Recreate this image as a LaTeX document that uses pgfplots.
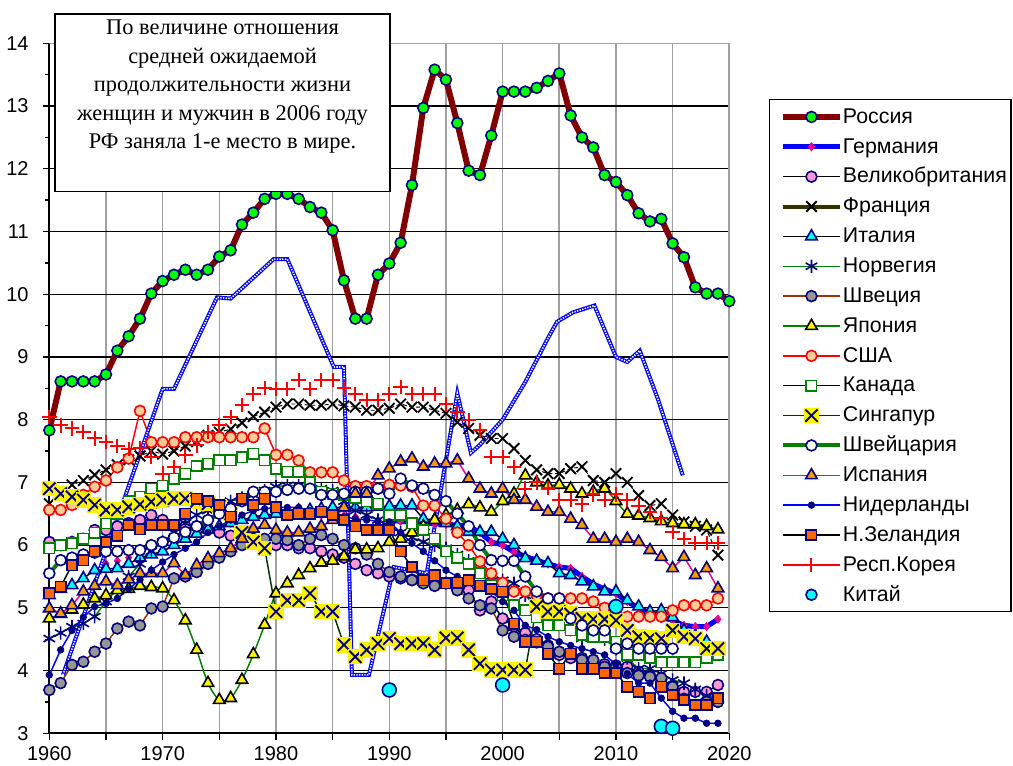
\documentclass[border=0pt]{standalone}
\usepackage{fontspec}
\setmainfont{Liberation Serif}
\setsansfont{Liberation Sans}
\usepackage{pgfplots}
\pgfplotsset{compat=1.18}

\definecolor{rusline}{RGB}{128,0,0}
\definecolor{lgreen}{RGB}{0,255,0}
\definecolor{navy}{RGB}{0,0,128}
\definecolor{pinkf}{RGB}{255,153,204}
\definecolor{olivel}{RGB}{51,51,0}
\definecolor{cyanf}{RGB}{0,255,255}
\definecolor{dgreen}{RGB}{0,128,0}
\definecolor{brownl}{RGB}{153,51,0}
\definecolor{grayf}{RGB}{150,150,150}
\definecolor{peach}{RGB}{255,204,153}
\definecolor{sgline}{RGB}{0,51,0}
\definecolor{orangef}{RGB}{255,153,0}
\definecolor{nzorange}{RGB}{255,102,0}
\definecolor{gridgray}{RGB}{160,160,160}

% yellow square with an X (Singapore)
\pgfdeclareplotmark{sgx}{%
  \pgfpathrectangle{\pgfqpoint{-1.25\pgfplotmarksize}{-1.25\pgfplotmarksize}}{\pgfqpoint{2.5\pgfplotmarksize}{2.5\pgfplotmarksize}}%
  \pgfusepath{fill}%
  \pgfpathmoveto{\pgfqpoint{-\pgfplotmarksize}{-\pgfplotmarksize}}%
  \pgfpathlineto{\pgfqpoint{\pgfplotmarksize}{\pgfplotmarksize}}%
  \pgfpathmoveto{\pgfqpoint{-\pgfplotmarksize}{\pgfplotmarksize}}%
  \pgfpathlineto{\pgfqpoint{\pgfplotmarksize}{-\pgfplotmarksize}}%
  \pgfusepath{stroke}}

\begin{document}
\begin{tikzpicture}
\useasboundingbox (-37pt,-24.5pt) rectangle (722.8pt,550pt);

\begin{axis}[
    scale only axis,
    width=510pt, height=517.5pt,
    xmin=1960, xmax=2020, ymin=3, ymax=14,
    xtick={1960,1965,...,2020},
    xticklabels={1960,,1970,,1980,,1990,,2000,,2010,,2020},
    ytick={3,...,14},
    minor ytick={3.5,4.5,...,13.5},
    axis x line*=bottom, axis y line*=left,
    x axis line style={-, line width=1.5pt},
    y axis line style={-, line width=1.5pt},
    tick align=outside,
    major tick length=5pt, minor tick length=3pt,
    tick style={black, line width=1pt},
    xmajorgrids, ymajorgrids,
    every axis x grid/.append style={draw=gridgray, line width=1.2pt},
    every axis y grid/.append style={draw=black, line width=0.9pt},
    /pgf/number format/assume math mode=true,
    tick label style={font=\sffamily\fontsize{15}{18}\selectfont},
    xticklabel style={yshift=-1.5pt},
    yticklabel style={xshift=-7pt},
    legend style={
        at={(axis description cs:1.0745,0.9082)}, anchor=north west,
        draw=none, fill=none, inner sep=0pt, outer sep=0pt,
        font=\sffamily\fontsize{16}{19}\selectfont,
        row sep=7pt,
        nodes={inner sep=0pt, text height=12.4pt, text depth=3pt},
        /tikz/every odd column/.append style={column sep=0pt},
    },
    legend cell align=left,
    legend image code/.code={\draw[mark repeat=2,mark phase=2] plot coordinates {(0pt,0pt)(21.4pt,0pt)(42.8pt,0pt)};},
]

% Russia
\addplot[color=rusline, line width=4.5pt, mark=*, mark size=4.1pt,
  mark options={fill=lgreen, draw=navy, line width=1.2pt}] coordinates {
(1960,7.83)(1961,8.61)(1962,8.61)(1963,8.61)(1964,8.61)(1965,8.72)(1966,9.1)(1967,9.33)(1968,9.61)(1969,10.01)
(1970,10.21)(1971,10.31)(1972,10.39)(1973,10.31)(1974,10.39)(1975,10.6)(1976,10.7)(1977,11.11)(1978,11.3)(1979,11.52)
(1980,11.6)(1981,11.6)(1982,11.52)(1983,11.39)(1984,11.3)(1985,11.02)(1986,10.22)(1987,9.61)(1988,9.61)(1989,10.31)
(1990,10.49)(1991,10.82)(1992,11.74)(1993,12.97)(1994,13.58)(1995,13.42)(1996,12.73)(1997,11.97)(1998,11.9)(1999,12.53)
(2000,13.23)(2001,13.23)(2002,13.23)(2003,13.29)(2004,13.4)(2005,13.52)(2006,12.85)(2007,12.5)(2008,12.34)(2009,11.9)
(2010,11.79)(2011,11.58)(2012,11.29)(2013,11.16)(2014,11.2)(2015,10.81)(2016,10.59)(2017,10.11)(2018,10.01)(2019,10.01)(2020,9.89)};
\addlegendentry{Россия}

% Germany, marks only before 1990
\addplot[forget plot, only marks, mark=diamond*, mark size=3.2pt,
  mark options={fill=magenta, draw=magenta, line width=0.4pt}] coordinates {
(1965,5.7)(1966,5.75)(1967,5.8)(1968,5.9)(1969,5.95)(1970,6.03)(1971,6.1)(1972,6.15)(1973,6.2)(1974,6.25)
(1975,6.3)(1976,6.35)(1977,6.42)(1978,6.48)(1979,6.5)(1980,6.5)(1981,6.5)(1982,6.48)(1983,6.48)(1984,6.48)
(1985,6.48)(1986,6.47)(1987,6.45)(1988,6.42)(1989,6.4)};
% Germany
\addplot[color=blue, line width=3.8pt, mark=diamond*, mark size=3.2pt,
  mark options={fill=magenta, draw=magenta, line width=0.4pt}] coordinates {
(1990,6.4)(1991,6.38)(1992,6.36)(1993,6.35)(1994,6.34)(1995,6.33)(1996,6.32)(1997,6.3)(1998,6.2)(1999,6.05)
(2000,6.0)(2001,5.89)(2002,5.82)(2003,5.76)(2004,5.7)(2005,5.65)(2006,5.63)(2007,5.5)(2008,5.38)(2009,5.3)
(2010,5.23)(2011,5.1)(2012,5.0)(2013,4.92)(2014,4.86)(2015,4.8)(2016,4.72)(2017,4.7)(2018,4.7)(2019,4.82)};
\addlegendentry{Германия}

% UK
\addplot[color=black, line width=1.1pt, mark=*, mark size=4.1pt,
  mark options={fill=pinkf, draw=navy, line width=1.2pt}] coordinates {
(1960,6.05)(1961,6.0)(1962,6.05)(1963,6.1)(1964,6.24)(1965,6.24)(1966,6.3)(1967,6.35)(1968,6.4)(1969,6.48)
(1970,6.4)(1971,6.3)(1972,6.3)(1973,6.3)(1974,6.25)(1975,6.2)(1976,6.15)(1977,6.1)(1978,6.1)(1979,6.05)
(1980,6.0)(1981,6.0)(1982,5.95)(1983,5.95)(1984,5.9)(1985,5.85)(1986,5.8)(1987,5.7)(1988,5.6)(1989,5.55)
(1990,5.5)(1991,5.47)(1992,5.45)(1993,5.42)(1994,5.4)(1995,5.4)(1996,5.39)(1997,5.28)(1998,4.96)(1999,5.1)
(2000,4.83)(2001,4.7)(2002,4.6)(2003,4.5)(2004,4.4)(2005,4.25)(2006,4.2)(2007,4.2)(2008,4.15)(2009,4.1)
(2010,4.08)(2011,4.06)(2012,3.98)(2013,3.92)(2014,3.86)(2015,3.75)(2016,3.66)(2017,3.66)(2018,3.66)(2019,3.77)};
\addlegendentry{Великобритания}

% France
\addplot[color=black, line width=0.7pt, densely dashed, mark=x, mark size=5.6pt,
  mark options={solid, draw=black, line width=1.4pt},
  legend image code/.code={\draw[solid, draw=olivel, line width=3pt, mark repeat=2,mark phase=2] plot coordinates {(0pt,0pt)(21.4pt,0pt)(42.8pt,0pt)};}] coordinates {
(1960,6.66)(1961,6.82)(1962,6.96)(1963,7.03)(1964,7.12)(1965,7.2)(1966,7.28)(1967,7.36)(1968,7.42)(1969,7.5)
(1970,7.45)(1971,7.5)(1972,7.58)(1973,7.65)(1974,7.75)(1975,7.8)(1976,7.85)(1977,7.95)(1978,8.05)(1979,8.12)
(1980,8.2)(1981,8.25)(1982,8.25)(1983,8.23)(1984,8.23)(1985,8.25)(1986,8.22)(1987,8.2)(1988,8.15)(1989,8.15)
(1990,8.18)(1991,8.25)(1992,8.2)(1993,8.2)(1994,8.15)(1995,8.1)(1996,7.96)(1997,7.86)(1998,7.75)(1999,7.7)
(2000,7.7)(2001,7.54)(2002,7.35)(2003,7.2)(2004,7.14)(2005,7.14)(2006,7.22)(2007,7.25)(2008,7.03)(2009,7.0)
(2010,7.14)(2011,7.0)(2012,6.79)(2013,6.63)(2014,6.66)(2015,6.48)(2016,6.37)(2017,6.3)(2018,6.24)(2019,5.84)};
\addlegendentry{Франция}

% Italy
\addplot[color=black, line width=1.1pt, mark=triangle*, mark size=5pt,
  mark options={fill=cyanf, draw=navy, line width=1.2pt}] coordinates {
(1960,5.2)(1961,5.3)(1962,5.36)(1963,5.47)(1964,5.6)(1965,5.62)(1966,5.63)(1967,5.7)(1968,5.8)(1969,5.85)
(1970,5.9)(1971,6.0)(1972,6.1)(1973,6.18)(1974,6.25)(1975,6.3)(1976,6.35)(1977,6.4)(1978,6.45)(1979,6.48)
(1980,6.5)(1981,6.52)(1982,6.55)(1983,6.56)(1984,6.58)(1985,6.6)(1986,6.6)(1987,6.6)(1988,6.6)(1989,6.61)
(1990,6.62)(1991,6.63)(1992,6.63)(1993,6.42)(1994,6.4)(1995,6.35)(1996,6.3)(1997,6.21)(1998,6.21)(1999,6.21)
(2000,6.1)(2001,6.0)(2002,5.79)(2003,5.75)(2004,5.71)(2005,5.55)(2006,5.52)(2007,5.42)(2008,5.34)(2009,5.26)
(2010,5.26)(2011,5.12)(2012,5.02)(2013,4.94)(2014,4.96)(2015,4.85)(2016,4.64)(2017,4.55)(2018,4.46)(2019,4.3)};
\addlegendentry{Италия}

% Norway
\addplot[color=dgreen, line width=1.1pt, mark=asterisk, mark size=5pt,
  mark options={draw=navy, line width=1.2pt}] coordinates {
(1960,4.51)(1961,4.6)(1962,4.7)(1963,4.75)(1964,4.86)(1965,5.1)(1966,5.3)(1967,5.5)(1968,5.7)(1969,5.9)
(1970,6.05)(1971,6.2)(1972,6.35)(1973,6.48)(1974,6.55)(1975,6.62)(1976,6.7)(1977,6.75)(1978,6.8)(1979,6.87)
(1980,6.93)(1981,6.95)(1982,6.95)(1983,6.92)(1984,6.9)(1985,6.87)(1986,6.7)(1987,6.55)(1988,6.48)(1989,6.4)
(1990,6.3)(1991,6.2)(1992,6.12)(1993,6.05)(1994,6.0)(1995,5.95)(1996,5.85)(1997,5.75)(1998,5.6)(1999,5.5)
(2000,5.44)(2001,5.39)(2002,5.2)(2003,5.0)(2004,4.9)(2005,4.78)(2006,4.65)(2007,4.51)(2008,4.72)(2009,4.5)
(2010,4.35)(2011,4.2)(2012,4.03)(2013,4.03)(2014,3.95)(2015,3.85)(2016,3.8)(2017,3.7)(2018,3.6)(2019,3.55)};
\addlegendentry{Норвегия}

% Sweden
\addplot[color=brownl, line width=1.1pt, mark=*, mark size=4.1pt,
  mark options={fill=grayf, draw=navy, line width=1.2pt}] coordinates {
(1960,3.69)(1961,3.8)(1962,4.09)(1963,4.14)(1964,4.3)(1965,4.43)(1966,4.67)(1967,4.78)(1968,4.72)(1969,4.99)
(1970,5.02)(1971,5.47)(1972,5.5)(1973,5.57)(1974,5.7)(1975,5.8)(1976,5.9)(1977,6.0)(1978,6.05)(1979,6.1)
(1980,6.1)(1981,6.08)(1982,6.0)(1983,6.1)(1984,6.16)(1985,6.1)(1986,6.0)(1987,5.95)(1988,5.85)(1989,5.7)
(1990,5.57)(1991,5.5)(1992,5.44)(1993,5.39)(1994,5.35)(1995,5.39)(1996,5.28)(1997,5.15)(1998,5.04)(1999,4.99)
(2000,4.64)(2001,4.54)(2002,4.49)(2003,4.45)(2004,4.38)(2005,4.3)(2006,4.27)(2007,4.17)(2008,4.17)(2009,4.06)
(2010,4.06)(2011,3.96)(2012,3.92)(2013,3.9)(2014,3.88)(2015,3.74)(2016,3.55)(2017,3.45)(2018,3.5)(2019,3.5)};
\addlegendentry{Швеция}

% Japan
\addplot[color=dgreen, line width=1.1pt, smooth, mark=triangle*, mark size=5pt,
  mark options={fill=yellow, draw=black, line width=1.2pt}] coordinates {
(1960,4.83)(1961,4.9)(1962,4.97)(1963,5.05)(1964,5.15)(1965,5.2)(1966,5.28)(1967,5.3)(1968,5.35)(1969,5.33)
(1970,5.31)(1971,5.12)(1972,4.8)(1973,4.33)(1974,3.8)(1975,3.53)(1976,3.56)(1977,3.85)(1978,4.26)(1979,4.73)
(1980,5.23)(1981,5.39)(1982,5.52)(1983,5.63)(1984,5.72)(1985,5.75)(1986,5.82)(1987,5.93)(1988,5.93)(1989,5.95)
(1990,6.05)(1991,6.1)(1992,6.2)(1993,6.3)(1994,6.4)(1995,6.48)(1996,6.56)(1997,6.65)(1998,6.6)(1999,6.53)
(2000,6.7)(2001,6.82)(2002,7.11)(2003,7.0)(2004,6.95)(2005,6.96)(2006,6.9)(2007,6.82)(2008,6.85)(2009,6.9)
(2010,6.7)(2011,6.5)(2012,6.47)(2013,6.43)(2014,6.38)(2015,6.35)(2016,6.33)(2017,6.33)(2018,6.3)(2019,6.25)};
\addlegendentry{Япония}

% USA
\addplot[color=red, line width=1.1pt, mark=*, mark size=4.1pt,
  mark options={fill=peach, draw=red, line width=1.2pt}] coordinates {
(1960,6.56)(1961,6.56)(1962,6.64)(1963,6.8)(1964,6.93)(1965,7.03)(1966,7.24)(1967,7.38)(1968,8.14)(1969,7.64)
(1970,7.64)(1971,7.64)(1972,7.72)(1973,7.72)(1974,7.72)(1975,7.72)(1976,7.72)(1977,7.72)(1978,7.72)(1979,7.86)
(1980,7.44)(1981,7.44)(1982,7.35)(1983,7.16)(1984,7.16)(1985,7.16)(1986,7.03)(1987,6.94)(1988,6.94)(1989,6.9)
(1990,6.96)(1991,6.95)(1992,6.93)(1993,6.63)(1994,6.63)(1995,6.42)(1996,6.2)(1997,6.0)(1998,5.74)(1999,5.55)
(2000,5.4)(2001,5.26)(2002,5.26)(2003,5.2)(2004,5.15)(2005,5.15)(2006,5.15)(2007,5.15)(2008,5.1)(2009,5.0)
(2010,4.9)(2011,4.86)(2012,4.86)(2013,4.86)(2014,4.86)(2015,4.96)(2016,5.04)(2017,5.04)(2018,5.04)(2019,5.15)};
\addlegendentry{США}

% Canada
\addplot[color=black, line width=1.1pt, mark=square*, mark size=3.9pt,
  mark options={fill=white, draw=dgreen, line width=1.2pt}] coordinates {
(1960,5.95)(1961,6.0)(1962,6.03)(1963,6.1)(1964,6.2)(1965,6.35)(1966,6.5)(1967,6.7)(1968,6.77)(1969,6.9)
(1970,6.95)(1971,7.06)(1972,7.14)(1973,7.26)(1974,7.3)(1975,7.35)(1976,7.35)(1977,7.4)(1978,7.46)(1979,7.35)
(1980,7.22)(1981,7.17)(1982,7.17)(1983,7.0)(1984,6.85)(1985,6.82)(1986,6.8)(1987,6.75)(1988,6.7)(1989,6.66)
(1990,6.48)(1991,6.48)(1992,6.35)(1993,6.24)(1994,6.1)(1995,5.9)(1996,5.8)(1997,5.7)(1998,5.55)(1999,5.36)
(2000,5.2)(2001,5.04)(2002,4.96)(2003,4.85)(2004,4.72)(2005,4.72)(2006,4.64)(2007,4.57)(2008,4.54)(2009,4.54)
(2010,4.46)(2011,4.25)(2012,4.25)(2013,4.2)(2014,4.13)(2015,4.13)(2016,4.13)(2017,4.13)(2018,4.2)(2019,4.25)};
\addlegendentry{Канада}

% Singapore
\addplot[color=sgline, line width=1.1pt, mark=sgx, mark size=4.6pt,
  mark options={fill=yellow, draw=navy, line width=1.4pt}] coordinates {
(1960,6.9)(1961,6.82)(1962,6.77)(1963,6.72)(1964,6.64)(1965,6.56)(1966,6.56)(1967,6.61)(1968,6.65)(1969,6.69)
(1970,6.72)(1971,6.74)(1972,6.74)(1973,6.7)(1974,6.66)(1975,6.62)(1976,6.5)(1977,6.2)(1978,6.05)(1979,5.95)
(1980,4.94)(1981,5.12)(1982,5.12)(1983,5.23)(1984,4.94)(1985,4.94)(1986,4.41)(1987,4.22)(1988,4.33)(1989,4.43)
(1990,4.51)(1991,4.43)(1992,4.43)(1993,4.43)(1994,4.33)(1995,4.52)(1996,4.52)(1997,4.33)(1998,4.11)(1999,4.01)
(2000,4.01)(2001,4.01)(2002,4.01)(2003,5.02)(2004,4.94)(2005,4.94)(2006,4.9)(2007,4.83)(2008,4.82)(2009,4.82)
(2010,4.8)(2011,4.64)(2012,4.54)(2013,4.52)(2014,4.51)(2015,4.64)(2016,4.54)(2017,4.51)(2018,4.35)(2019,4.35)};
\addlegendentry{Сингапур}

% Switzerland
\addplot[color=dgreen, line width=3pt, mark=*, mark size=4.1pt,
  mark options={fill=white, draw=navy, line width=1.2pt}] coordinates {
(1960,5.55)(1961,5.76)(1962,5.8)(1963,5.85)(1964,5.88)(1965,5.9)(1966,5.9)(1967,5.92)(1968,5.92)(1969,6.0)
(1970,6.05)(1971,6.12)(1972,6.21)(1973,6.3)(1974,6.4)(1975,6.5)(1976,6.58)(1977,6.7)(1978,6.85)(1979,6.85)
(1980,6.85)(1981,6.88)(1982,6.9)(1983,6.9)(1984,6.8)(1985,6.8)(1986,6.82)(1987,6.85)(1988,6.85)(1989,6.9)
(1990,6.82)(1991,7.06)(1992,6.95)(1993,6.9)(1994,6.8)(1995,6.7)(1996,6.5)(1997,6.3)(1998,6.0)(1999,5.76)
(2000,5.75)(2001,5.75)(2002,5.5)(2003,5.26)(2004,5.15)(2005,5.15)(2006,4.83)(2007,4.72)(2008,4.64)(2009,4.64)
(2010,4.35)(2011,4.43)(2012,4.35)(2013,4.35)(2014,4.35)(2015,4.35)};
\addlegendentry{Швейцария}

% Spain
\addplot[color=magenta, line width=1.1pt, mark=triangle*, mark size=5pt,
  mark options={fill=orangef, draw=navy, line width=1.2pt}] coordinates {
(1960,4.99)(1961,4.91)(1962,5.04)(1963,5.26)(1964,5.35)(1965,5.42)(1966,5.36)(1967,5.45)(1968,5.55)(1969,5.55)
(1970,5.55)(1971,5.71)(1972,5.52)(1973,5.68)(1974,5.79)(1975,5.87)(1976,5.95)(1977,6.1)(1978,6.26)(1979,6.32)
(1980,6.24)(1981,6.2)(1982,6.2)(1983,6.26)(1984,6.3)(1985,6.4)(1986,6.6)(1987,6.82)(1988,6.82)(1989,7.11)
(1990,7.22)(1991,7.33)(1992,7.38)(1993,7.25)(1994,7.3)(1995,7.3)(1996,7.35)(1997,7.06)(1998,6.9)(1999,6.82)
(2000,6.9)(2001,6.72)(2002,6.72)(2003,6.61)(2004,6.53)(2005,6.53)(2006,6.42)(2007,6.32)(2008,6.1)(2009,6.1)
(2010,6.05)(2011,6.1)(2012,6.05)(2013,5.92)(2014,5.81)(2015,5.63)(2016,5.81)(2017,5.52)(2018,5.63)(2019,5.31)};
\addlegendentry{Испания}

% Netherlands
\addplot[color=blue, line width=1.1pt, mark=*, mark size=2.5pt,
  mark options={fill=navy, draw=navy, line width=0.5pt}] coordinates {
(1960,3.93)(1961,4.33)(1962,4.64)(1963,4.85)(1964,5.02)(1965,5.07)(1966,5.15)(1967,5.3)(1968,5.45)(1969,5.6)
(1970,5.73)(1971,5.85)(1972,5.95)(1973,6.05)(1974,6.2)(1975,6.3)(1976,6.4)(1977,6.48)(1978,6.55)(1979,6.58)
(1980,6.6)(1981,6.6)(1982,6.6)(1983,6.55)(1984,6.5)(1985,6.48)(1986,6.45)(1987,6.42)(1988,6.4)(1989,6.38)
(1990,6.37)(1991,6.2)(1992,6.03)(1993,5.9)(1994,5.75)(1995,5.6)(1996,5.5)(1997,5.4)(1998,5.33)(1999,5.26)
(2000,5.1)(2001,4.96)(2002,4.72)(2003,4.65)(2004,4.54)(2005,4.46)(2006,4.4)(2007,4.35)(2008,4.3)(2009,4.25)
(2010,4.1)(2011,3.95)(2012,3.8)(2013,3.8)(2014,3.56)(2015,3.35)(2016,3.24)(2017,3.24)(2018,3.16)(2019,3.16)};
\addlegendentry{Нидерланды}

% New Zealand
\addplot[color=black, line width=1.1pt, mark=square*, mark size=3.9pt,
  mark options={fill=nzorange, draw=navy, line width=1.2pt}] coordinates {
(1960,5.23)(1961,5.34)(1962,5.68)(1963,5.76)(1964,5.9)(1965,6.05)(1966,6.15)(1967,6.32)(1968,6.25)(1969,6.32)
(1970,6.32)(1971,6.32)(1972,6.5)(1973,6.74)(1974,6.7)(1975,6.64)(1976,6.45)(1977,6.74)(1978,6.64)(1979,6.74)
(1980,6.6)(1981,6.48)(1982,6.5)(1983,6.5)(1984,6.53)(1985,6.48)(1986,6.4)(1987,6.3)(1988,6.24)(1989,6.24)
(1990,6.24)(1991,5.9)(1992,5.65)(1993,5.44)(1994,5.52)(1995,5.39)(1996,5.4)(1997,5.44)(1998,5.35)(1999,5.3)
(2000,5.26)(2001,4.75)(2002,4.46)(2003,4.46)(2004,4.27)(2005,4.03)(2006,4.27)(2007,4.03)(2008,4.03)(2009,3.96)
(2010,3.96)(2011,3.74)(2012,3.66)(2013,3.56)(2014,3.74)(2015,3.61)(2016,3.53)(2017,3.45)(2018,3.45)(2019,3.56)};
\addlegendentry{Н.Зеландия}

% Korea
\addplot[draw=none, mark=+, mark size=5.4pt,
  mark options={draw=red, line width=1.5pt},
  legend image code/.code={\draw[draw=red, line width=1.1pt, mark repeat=2,mark phase=2] plot coordinates {(0pt,0pt)(21.4pt,0pt)(42.8pt,0pt)};}] coordinates {
(1960,8.04)(1961,7.91)(1962,7.86)(1963,7.8)(1964,7.7)(1965,7.64)(1966,7.58)(1967,7.53)(1968,7.55)(1969,7.4)
(1970,7.14)(1971,7.25)(1972,7.43)(1973,7.59)(1974,7.8)(1975,7.91)(1976,8.04)(1977,8.23)(1978,8.41)(1979,8.5)
(1980,8.49)(1981,8.49)(1982,8.63)(1983,8.49)(1984,8.63)(1985,8.63)(1986,8.5)(1987,8.41)(1988,8.31)(1989,8.31)
(1990,8.41)(1991,8.52)(1992,8.41)(1993,8.41)(1994,8.41)(1995,8.25)(1996,8.12)(1997,7.99)(1998,7.83)(1999,7.4)
(2000,7.4)(2001,7.25)(2002,6.9)(2003,7.0)(2004,6.91)(2005,6.72)(2006,6.72)(2007,6.65)(2008,6.81)(2009,6.72)
(2010,6.81)(2011,6.72)(2012,6.63)(2013,6.53)(2014,6.43)(2015,6.21)(2016,6.1)(2017,6.03)(2018,6.03)(2019,6.03)};
\addlegendentry{Респ.Корея}

% China
\addplot[only marks, mark=*, mark size=5.2pt,
  mark options={fill=cyanf, draw=navy, line width=1.2pt},
  legend image code/.code={\draw[mark size=4.1pt] plot coordinates {(21.4pt,0pt)};}] coordinates {
(1990,3.69)(2000,3.77)(2010,5.02)(2014,3.11)(2015,3.08)};
\addlegendentry{Китай}

% hatched blue line
\addplot[forget plot, color=blue, line width=3pt] coordinates {
(1961.2,3.93)(1969.8,8.39)(1970,8.49)(1971,8.49)(1974.8,9.95)(1976,9.93)(1979.8,10.56)(1981,10.56)
(1985.1,8.84)(1986,8.84)(1986.7,3.93)(1988.2,3.93)(1990.4,5.65)(1993.3,5.55)(1996,8.42)(1997.2,7.47)
(1998,7.6)(2000,8.0)(2002,8.6)(2004,9.3)(2004.8,9.56)(2006.2,9.71)(2008.1,9.82)(2010,9.0)(2011,8.92)
(2012.1,9.1)(2013.7,8.33)(2015.9,7.11)};
\addplot[forget plot, color=white, line width=1.2pt, dash pattern=on 1pt off 1pt] coordinates {
(1961.2,3.93)(1969.8,8.39)(1970,8.49)(1971,8.49)(1974.8,9.95)(1976,9.93)(1979.8,10.56)(1981,10.56)
(1985.1,8.84)(1986,8.84)(1986.7,3.93)(1988.2,3.93)(1990.4,5.65)(1993.3,5.55)(1996,8.42)(1997.2,7.47)
(1998,7.6)(2000,8.0)(2002,8.6)(2004,9.3)(2004.8,9.56)(2006.2,9.71)(2008.1,9.82)(2010,9.0)(2011,8.92)
(2012.1,9.1)(2013.7,8.33)(2015.9,7.11)};

\draw[gridgray, line width=1.2pt] (rel axis cs:0,1) -- (rel axis cs:1,1) -- (rel axis cs:1,0);
\end{axis}

% note box
\draw[line width=1pt, fill=white] (4.3pt,406.2pt) rectangle (255.5pt,539.5pt);
\node[align=center, anchor=north, inner sep=0pt, font=\fontsize{16.8}{21.3}\selectfont]
  at (129.9pt,535pt) {По величине отношения\\средней ожидаемой\\продолжительности жизни\\женщин и мужчин в 2006 году\\РФ заняла 1-е место в мире.};

% legend frame
\draw[line width=1.1pt] (540pt,91.2pt) rectangle (721.3pt,475.5pt);
\end{tikzpicture}
\end{document}
